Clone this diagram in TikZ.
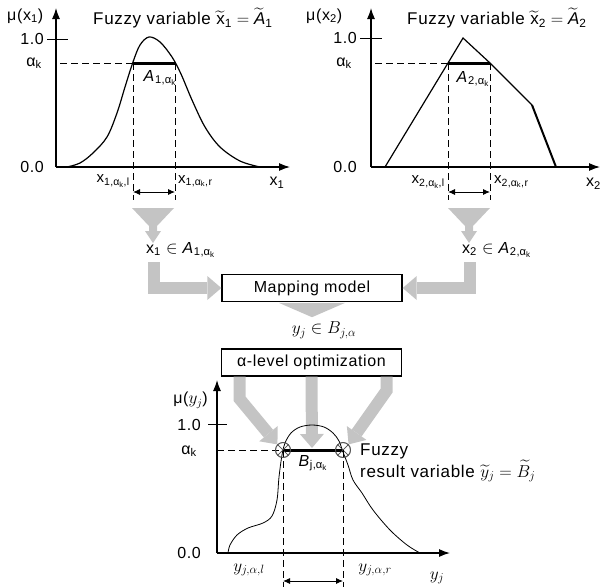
\documentclass[tikz,border=0pt]{standalone}
\usepackage{amsmath}
\usepackage{fontspec}
\setmainfont{Liberation Sans}[LetterSpace=4]
\usepackage{tikz}
\usetikzlibrary{arrows.meta,positioning,calc}
\definecolor{fatgray}{HTML}{C4C4C4}
\definecolor{circgray}{HTML}{555555}
\newcommand{\ak}{\text{α}_{\text{k}}}

\begin{document}
\begin{tikzpicture}[x=1pt,y=-1pt,
  axis/.style={line width=1.2pt,-{Latex[length=11pt,width=8pt]}},
  cutline/.style={line width=3pt},
  dashline/.style={dash pattern=on 7pt off 4pt,line width=0.9pt},
  span/.style={line width=0.9pt,{Latex[length=7pt,width=6pt]}-{Latex[length=7pt,width=6pt]}},
  fatarrow/.style={draw=fatgray,line width=12pt,-{Triangle[length=14pt,width=24pt,line width=0pt]}},
  boxnode/.style={draw,line width=1.4pt,minimum width=180pt,minimum height=27pt,inner sep=0pt,
                  font=\fontsize{16}{18}\selectfont},
  lbl/.style={inner sep=0pt,font=\fontsize{16}{18}\selectfont},
  sublbl/.style={inner sep=0pt,font=\fontsize{15}{17}\selectfont},
  title/.style={inner sep=0pt,font=\fontsize{17}{17}\selectfont},
  xcirc/.style={circle,draw=circgray,line width=0.8pt,minimum size=15pt,inner sep=0pt,
    path picture={\draw[circgray,line width=0.6pt]
      (path picture bounding box.north west) -- (path picture bounding box.south east)
      (path picture bounding box.north east) -- (path picture bounding box.south west);}}]
  \useasboundingbox (0,0) rectangle (600,587);

  % --- first input variable
  \draw[axis] (56,167) -- (56,8);
  \draw[axis] (56,167) -- (290,167);
  \draw[line width=0.9pt] (47,39) -- (68,39);
  \node[lbl,anchor=east] at (44,39) {1.0};
  \node[lbl,anchor=east] at (42,63) {α\textsubscript{k}};
  \node[lbl,anchor=east] at (44,167) {0.0};
  \node[lbl,anchor=west] (mu1) at (7,16) {μ(x\textsubscript{1})};
  \node[title,anchor=west] (ttl1) at (93,18)
     {Fuzzy variable $\widetilde{\text{x}}_{\text{1}} = \widetilde{\textit{A}}_{\text{1}}$};
  \draw[line width=1.2pt] plot[smooth,tension=0.55] coordinates
     {(67,167) (80,163) (93,153) (107,137) (117,113) (125,87) (133,62) (140,45)
      (149,37) (160,42) (172,57) (181,74) (192,100) (205,127) (220,147) (240,161)
      (260,167)};
  \coordinate (a1l) at (133,63);
  \coordinate (a1r) at (175,63);
  \draw[dashline] (60,63) -- (a1l);
  \draw[cutline] (a1l) -- (a1r);
  \draw[dashline] (a1l) -- ++(0,137) (a1r) -- ++(0,137);
  \draw[span] (133,192) -- (175,192);
  \node[lbl] (A1) at (160,78) {\textit{A}$_{\text{1,}\ak}$};
  \node[sublbl,anchor=east] at (130,181) {x$_{\text{1,}\ak\text{,l}}$};
  \node[sublbl,anchor=west] at (178,181) {x$_{\text{1,}\ak\text{,r}}$};
  \node[lbl] at (277,183) {x\textsubscript{1}};

  % --- second input variable
  \draw[axis] (371,167) -- (371,8);
  \draw[axis] (371,167) -- (600,167);
  \draw[line width=0.9pt] (360,38) -- (382,38);
  \node[lbl,anchor=east] at (357,38) {1.0};
  \node[lbl,anchor=east] at (352,63) {α\textsubscript{k}};
  \node[lbl,anchor=east] at (357,167) {0.0};
  \node[lbl,anchor=west] (mu2) at (306,16) {μ(x\textsubscript{2})};
  \node[title,anchor=west] (ttl2) at (407,18)
     {Fuzzy variable $\widetilde{\text{x}}_{\text{2}} = \widetilde{\textit{A}}_{\text{2}}$};
  \draw[line width=1.2pt] (385,167) -- (448,63) -- (463,38) -- (490,63) -- (532,105);
  \draw[line width=2pt] (532,105) -- (556,167);
  \coordinate (a2l) at (448,63);
  \coordinate (a2r) at (490,63);
  \draw[dashline] (375,63) -- (a2l);
  \draw[cutline] (a2l) -- (a2r);
  \draw[dashline] (a2l) -- ++(0,137) (a2r) -- ++(0,137);
  \draw[span] (448,192) -- (490,192);
  \node[lbl] (A2) at (473,79) {\textit{A}$_{\text{2,}\ak}$};
  \node[sublbl,anchor=east] at (445,182) {x$_{\text{2,}\ak\text{,l}}$};
  \node[sublbl,anchor=west] at (494,182) {x$_{\text{2,}\ak\text{,r}}$};
  \node[lbl,anchor=west] at (586,184) {x\textsubscript{2}};

  % --- funnels down to the crisp inputs
  \foreach \c in {153,469}{
    \fill[fatgray] ({\c-21},208) -- ({\c+21},208) -- ({\c+4},226) -- ({\c+4},231)
      -- ({\c+8},231) -- (\c,243) -- ({\c-8},231) -- ({\c-4},231) -- ({\c-4},226) -- cycle;
  }
  \node[lbl,anchor=west] (x1in) at (146,250) {x$_{\text{1}}$ $\in$ \textit{A}$_{\text{1,}\ak}$};
  \node[lbl,anchor=west] (x2in) at (462,250) {x$_{\text{2}}$ $\in$ \textit{A}$_{\text{2,}\ak}$};

  % --- mapping and optimization
  \node[boxnode] (map) at (312,288) {Mapping model};
  \draw[fatarrow] ([xshift=8pt,yshift=-4pt]x1in.south west) |- (map.west);
  \draw[fatarrow] ([xshift=8pt,yshift=-4pt]x2in.south west) |- (map.east);
  \fill[fatgray] ([xshift=-33pt,yshift=-0.7pt]map.south) -- ([xshift=33pt,yshift=-0.7pt]map.south)
     -- ([yshift=-15pt]map.south) -- cycle;
  \node[lbl,font=\fontsize{17}{18}\selectfont] (yin) at (324,330) {$y_j \in B_{j,\alpha}$};
  \node[boxnode] (opt) at (311.5,362.5) {α-level optimization};

  % --- result variable
  \node[xcirc] (cl) at (283,450) {};
  \node[xcirc] (cr) at (343,450) {};
  \coordinate (bmid) at (312,448);
  \draw[fatarrow] ([xshift=-72pt]opt.south) -- ++(0,22) -- (cl.north west);
  \draw[fatarrow] (opt.south) -- (bmid);
  \draw[fatarrow] ([xshift=75pt]opt.south) -- ++(0,14) -- (cr.north east);
  \draw[axis] (217,553) -- (217,380);
  \draw[axis] (217,553) -- (450,553);
  \draw[line width=0.9pt] (208,424) -- (227,424);
  \node[lbl,anchor=east] at (201,425) {1.0};
  \node[lbl,anchor=east] at (197,451) {α\textsubscript{k}};
  \node[lbl,anchor=east] at (201,553) {0.0};
  \node[lbl,anchor=east] (mu3) at (208,400) {μ($y_j$)};
  \draw[line width=0.8pt] plot[smooth,tension=0.55] coordinates
     {(228,553) (230,545) (237,535) (248,528) (263,523) (272,516) (277,500) (279,477)
      (282,455) (285,443) (291,433) (300,427) (312,425) (324,427) (333,433) (339,441)
      (343,452) (348,465) (353,480) (362,493) (373,510) (390,530) (407,545) (420,553)};
  \draw[dashline] (217,450) -- (cl.center);
  \draw[cutline] (cl.center) -- (cr.center);
  \node[xcirc] at (cl) {};
  \node[xcirc] at (cr) {};
  \draw[dashline] (cl.center) -- ++(0,137) (cr.center) -- ++(0,137);
  \draw[span] (283,581) -- (343,581);
  \node[lbl] (Bj) at (313,463) {\textit{B}$_{\text{j,}\ak}$};
  \node[lbl,font=\fontsize{17}{18}\selectfont] at (249,570) {$y_{j,\alpha,l}$};
  \node[lbl,font=\fontsize{17}{18}\selectfont] at (375,570) {$y_{j,\alpha,r}$};
  \node[lbl,font=\fontsize{17}{18}\selectfont] at (437,578) {$y_j$};
  \node[title,anchor=north west,align=left] (res) at (360,444)
     {Fuzzy\\result variable $\widetilde{y}_j = \widetilde{B}_j$};
\end{tikzpicture}
\end{document}
